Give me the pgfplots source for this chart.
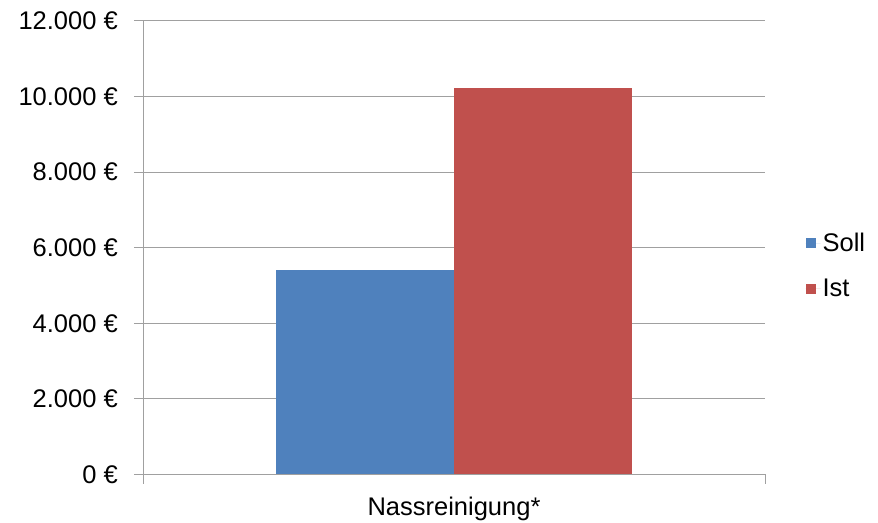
\documentclass[border=0pt]{standalone}
\usepackage{fontspec}
\setmainfont{Liberation Sans}
\usepackage{pgfplots}
\pgfplotsset{compat=1.18}
\definecolor{soll}{HTML}{4F81BD}
\definecolor{ist}{HTML}{C0504D}
\definecolor{gridc}{RGB}{160,160,160}
\newcommand{\ff}{\fontsize{25.5}{30}\selectfont}
\begin{document}
\begin{tikzpicture}
\useasboundingbox (0,0) rectangle (878pt,522pt);
\begin{axis}[
  at={(143pt,47.5pt)}, anchor=south west,
  scale only axis, width=622pt, height=453.5pt,
  ybar=0pt, bar width=178pt,
  xmin=-0.5, xmax=0.5, ymin=0, ymax=12000,
  scaled y ticks=false,
  axis x line*=bottom, axis y line*=left,
  axis line style={draw=gridc, line width=1pt},
  ytick={0,2000,4000,6000,8000,10000,12000},
  yticklabels={0 €,2.000 €,4.000 €,6.000 €,8.000 €,10.000 €,12.000 €},
  xtick={-0.5,0.5}, xticklabels={},
  tick align=outside, major tick length=9pt,
  tick style={draw=gridc, line width=1pt},
  ymajorgrids, major grid style={draw=gridc, line width=1pt},
  yticklabel style={font=\ff, anchor=east, inner sep=0pt, xshift=-16pt},
  xlabel={Nassreinigung*},
  xlabel style={font=\ff, at={(axis description cs:0.5,0)}, anchor=base, yshift=-41.5pt, inner sep=0pt},
  legend style={at={(1.065,0.46)}, anchor=west, draw=none, fill=none, font=\ff,
    row sep=22pt, inner sep=0pt, cells={anchor=west}},
  legend image code/.code={\fill[#1] (0pt,-5pt) rectangle (10pt,5pt); \path (0pt,0pt) -- (15pt,0pt);},
  legend cell align=left,
]
\addplot[fill=soll, draw=none] coordinates {(0,5420)};
\addplot[fill=ist, draw=none] coordinates {(0,10220)};
\legend{Soll,Ist}
\end{axis}
\end{tikzpicture}
\end{document}
